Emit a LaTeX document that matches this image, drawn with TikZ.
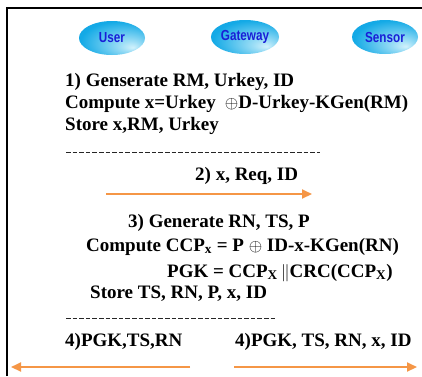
\documentclass[tikz,border=0pt]{standalone}
\usepackage{fontspec}
\setmainfont{Liberation Serif}
\newfontfamily\labelsans{Liberation Sans}
\usetikzlibrary{arrows.meta,shapes.geometric}
\definecolor{partyblue}{RGB}{20,170,230}
\definecolor{partylight}{RGB}{210,242,252}
\definecolor{partytext}{RGB}{25,30,215}
\definecolor{msgorange}{RGB}{245,150,70}
% radial shading whose bright spot sits toward the lower right
\pgfdeclareradialshading{partyshade}{\pgfpoint{16bp}{-14bp}}{%
  color(0bp)=(partylight); color(8bp)=(partylight!70!partyblue);
  color(30bp)=(partyblue); color(50bp)=(partyblue!90!blue)}
\tikzset{
  party/.style={ellipse, minimum width=66pt, minimum height=34pt, inner sep=0pt,
    shade, shading=partyshade,
    font=\labelsans\bfseries\fontsize{13}{13}\selectfont, text=partytext},
  step text/.style={anchor=base west, inner sep=0pt, font=\bfseries\fontsize{19}{19}\selectfont},
  msg/.style={draw=msgorange, line width=2pt, -{Triangle[length=10pt,width=9pt]}},
  sep/.style={line width=1pt, dash pattern=on 4.6pt off 2pt, draw=black!85}
}
% condensed, slightly taller labels inside the ellipses
\newcommand{\narrowlabel}[1]{\scalebox{0.9}[1.12]{#1}}
\begin{document}
\begin{tikzpicture}[x=1pt, y=-1pt]
\useasboundingbox (0,0) rectangle (422,376);
\fill[white] (0,0) rectangle (422,376);
% frame
\draw[line width=2.2pt] (7,376) -- (7,8) -- (422,8);
% parties
\node[party] (user) at (112,38) {\narrowlabel{User}};
\node[party] (gw) at (245,37) {\narrowlabel{Gateway}};
\node[party] (sensor) at (385,37) {\narrowlabel{Sensor}};
% step 1
\node[step text] (s1a) at (65,86) {1) Genserate RM, Urkey, ID};
\node[step text] (s1b) at (65,108) {Compute x=Urkey\hspace{9pt}$\oplus$D-Urkey-KGen(RM)};
\node[step text] (s1c) at (65,130) {Store x,RM, Urkey};
\coordinate (d1a) at (66,152);
\coordinate (d1b) at (320,152);
\draw[sep] (d1a) -- (d1b);
% step 2
\node[step text] (s2) at (195,180) {2) x, Req, ID};
\coordinate (m2a) at (106,194);
\coordinate (m2b) at (312,194);
\draw[msg] (m2a) -- (m2b);
% step 3
\node[step text] (s3a) at (128,227) {3) Generate RN, TS, P};
\node[step text] (s3b) at (86,251) {Compute CCP\textsubscript{x} = P $\oplus$ ID-x-KGen(RN)};
\node[step text] (s3c) at (167,277) {PGK = CCP\textsubscript{X}\,$\|$CRC(CCP\textsubscript{X})};
\node[step text] (s3d) at (90,298) {Store TS, RN, P, x, ID};
\coordinate (d2a) at (66,318);
\coordinate (d2b) at (275,318);
\draw[sep] (d2a) -- (d2b);
% step 4
\node[step text] (s4a) at (65,346) {4)PGK,TS,RN};
\node[step text] (s4b) at (235,346) {4)PGK, TS, RN, x, ID};
\coordinate (m4a) at (190,367);
\coordinate (m4b) at (11,367);
\coordinate (m4c) at (234,367);
\coordinate (m4d) at (417,367);
\draw[msg] (m4a) -- (m4b);
\draw[msg] (m4c) -- (m4d);
\end{tikzpicture}
\end{document}
